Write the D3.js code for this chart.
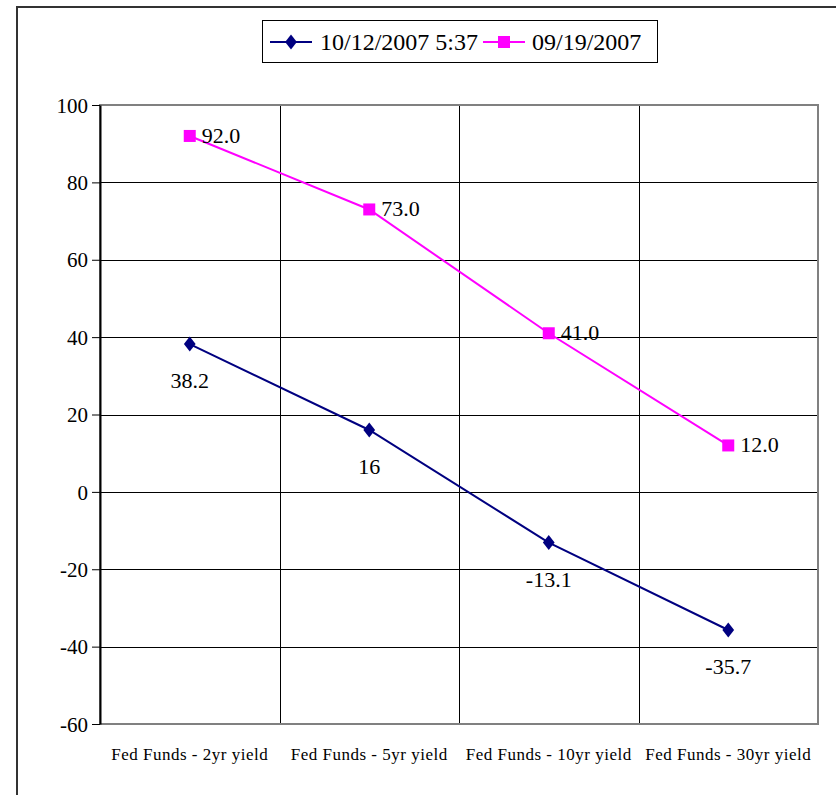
<!DOCTYPE html>
<html>
<head>
<meta charset="utf-8">
<script src="https://cdn.jsdelivr.net/npm/d3@7"></script>
<style>
  html, body { margin: 0; padding: 0; background: #fff; overflow: hidden; }
  svg { display: block; }
  text { font-family: "Liberation Serif", "DejaVu Serif", serif; fill: #000; }
</style>
</head>
<body>
<div id="chart"></div>
<script>
// Categories along the x axis
const categories = [
  'Fed Funds - 2yr yield',
  'Fed Funds - 5yr yield',
  'Fed Funds - 10yr yield',
  'Fed Funds - 30yr yield'
];

// Series values
const recentValues = [38.2, 16, -13.1, -35.7];
const earlierValues = [92.0, 73.0, 41.0, 12.0];

// Series names as shown in the legend
const seriesNames = ['10/12/2007 5:37', '09/19/2007'];

// Y axis ticks
const yTicks = [-60, -40, -20, 0, 20, 40, 60, 80, 100];

const width = 836;
const height = 795;
const plot = { left: 100, right: 818, top: 105, bottom: 724 };

const svg = d3.select('#chart')
  .append('svg')
  .attr('width', width)
  .attr('height', height);

// Outer chart frame: only the top and left edges fall inside the picture
svg.append('path')
  .attr('d', 'M17,' + height + 'V7H' + width)
  .attr('fill', 'none')
  .attr('stroke', '#333')
  .attr('stroke-width', 2);

const x = d3.scaleBand()
  .domain(categories)
  .range([plot.left, plot.right]);

const y = d3.scaleLinear()
  .domain([-60, 100])
  .range([plot.bottom, plot.top]);

const grid = svg.append('g').attr('shape-rendering', 'crispEdges');

// Horizontal gridlines
grid.selectAll('.hgrid')
  .data(yTicks.filter(d => d > -60 && d < 100))
  .join('line')
  .attr('class', 'hgrid')
  .attr('x1', plot.left)
  .attr('x2', plot.right)
  .attr('y1', d => Math.round(y(d)) + 0.5)
  .attr('y2', d => Math.round(y(d)) + 0.5)
  .attr('stroke', '#000');

// Vertical gridlines at category boundaries
grid.selectAll('.vgrid')
  .data(categories.slice(1))
  .join('line')
  .attr('class', 'vgrid')
  .attr('x1', d => Math.round(x(d)) + 0.5)
  .attr('x2', d => Math.round(x(d)) + 0.5)
  .attr('y1', plot.top)
  .attr('y2', plot.bottom)
  .attr('stroke', '#000');

// Plot area border (gray)
grid.append('rect')
  .attr('x', plot.left)
  .attr('y', plot.top)
  .attr('width', plot.right - plot.left)
  .attr('height', plot.bottom - plot.top)
  .attr('fill', 'none')
  .attr('stroke', '#808080')
  .attr('stroke-width', 2);

// Y axis
const yAxis = svg.append('g')
  .attr('transform', 'translate(' + plot.left + ',0)')
  .call(d3.axisLeft(y).tickValues(yTicks).tickSize(8).tickSizeOuter(0).tickPadding(4).tickFormat(d => String(d)));

yAxis.attr('font-family', null).attr('font-size', null);
yAxis.select('.domain').attr('stroke', '#000').attr('stroke-width', 2);
yAxis.selectAll('.tick line').attr('stroke', '#000');
yAxis.selectAll('.tick text')
  .attr('font-size', 21)
  .attr('dy', '0.34em');

// Category labels
svg.selectAll('.cat')
  .data(categories)
  .join('text')
  .attr('class', 'cat')
  .attr('x', d => x(d) + x.bandwidth() / 2)
  .attr('y', 760)
  .attr('text-anchor', 'middle')
  .attr('font-size', 17)
  .style('letter-spacing', '0.5px')
  .text(d => d);

const cx = (d, i) => x(categories[i]) + x.bandwidth() / 2;

const line = d3.line()
  .x((d, i) => cx(d, i))
  .y(d => y(d));

// Pink series
svg.append('path')
  .datum(earlierValues)
  .attr('d', line)
  .attr('fill', 'none')
  .attr('stroke', '#ff00ff')
  .attr('stroke-width', 2);

svg.selectAll('.sq')
  .data(earlierValues)
  .join('rect')
  .attr('class', 'sq')
  .attr('x', (d, i) => cx(d, i) - 6)
  .attr('y', d => y(d) - 6)
  .attr('width', 12)
  .attr('height', 12)
  .attr('fill', '#ff00ff');

svg.selectAll('.sqlabel')
  .data(earlierValues)
  .join('text')
  .attr('class', 'sqlabel')
  .attr('x', (d, i) => cx(d, i) + 12)
  .attr('y', d => y(d) + 7)
  .attr('font-size', 22)
  .text(d => d3.format('.1f')(d));

// Navy series
svg.append('path')
  .datum(recentValues)
  .attr('d', line)
  .attr('fill', 'none')
  .attr('stroke', '#000080')
  .attr('stroke-width', 2);

const diamond = d3.symbol().type(d3.symbolDiamond).size(90);

svg.selectAll('.dm')
  .data(recentValues)
  .join('path')
  .attr('class', 'dm')
  .attr('d', diamond)
  .attr('transform', (d, i) => 'translate(' + cx(d, i) + ',' + y(d) + ') scale(1.15,0.85)')
  .attr('fill', '#000080');

svg.selectAll('.dmlabel')
  .data(recentValues)
  .join('text')
  .attr('class', 'dmlabel')
  .attr('x', (d, i) => cx(d, i))
  .attr('y', d => y(d) + 44)
  .attr('text-anchor', 'middle')
  .attr('font-size', 22)
  .text(d => d);

// Legend
const legend = svg.append('g');

legend.append('rect')
  .attr('x', 262.5)
  .attr('y', 20.5)
  .attr('width', 395)
  .attr('height', 42)
  .attr('fill', '#fff')
  .attr('stroke', '#000');

const legendItems = [
  { name: seriesNames[0], color: '#000080', shape: 'diamond', x0: 270, tx: 320 },
  { name: seriesNames[1], color: '#ff00ff', shape: 'square', x0: 483, tx: 532 }
];

legendItems.forEach(function (item) {
  legend.append('line')
    .attr('x1', item.x0)
    .attr('x2', item.x0 + 42)
    .attr('y1', 42)
    .attr('y2', 42)
    .attr('stroke', item.color)
    .attr('stroke-width', 2);
  if (item.shape === 'diamond') {
    legend.append('path')
      .attr('d', diamond)
      .attr('transform', 'translate(' + (item.x0 + 21) + ',42) scale(1.15,0.85)')
      .attr('fill', item.color);
  } else {
    legend.append('rect')
      .attr('x', item.x0 + 15)
      .attr('y', 36)
      .attr('width', 12)
      .attr('height', 12)
      .attr('fill', item.color);
  }
  legend.append('text')
    .attr('x', item.tx)
    .attr('y', 50)
    .attr('font-size', 24)
    .text(item.name);
});
</script>
</body>
</html>
